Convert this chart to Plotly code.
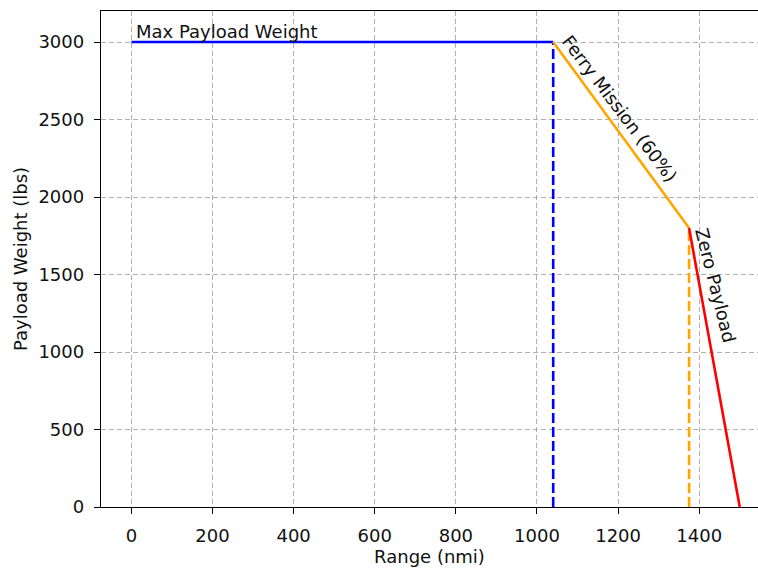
import plotly.graph_objects as go

# Data
max_payload_x = [0, 1040]
max_payload_y = [3000, 3000]
ferry_x = [1040, 1375]
ferry_y = [3000, 1800]
zero_x = [1375, 1500]
zero_y = [1800, 0]
blue_drop_x = [1040, 1040]
blue_drop_y = [0, 3000]
orange_drop_x = [1375, 1375]
orange_drop_y = [0, 1800]
x_ticks = [0, 200, 400, 600, 800, 1000, 1200, 1400]
y_ticks = [0, 500, 1000, 1500, 2000, 2500, 3000]

FONT = "DejaVu Sans"
FS = 18

fig = go.Figure()
fig.add_trace(go.Scatter(x=blue_drop_x, y=blue_drop_y, mode="lines",
                         line=dict(color="blue", width=2.6, dash="10px,4px")))
fig.add_trace(go.Scatter(x=orange_drop_x, y=orange_drop_y, mode="lines",
                         line=dict(color="orange", width=2.6, dash="10px,4px")))
fig.add_trace(go.Scatter(x=max_payload_x, y=max_payload_y, mode="lines",
                         line=dict(color="blue", width=2.6)))
fig.add_trace(go.Scatter(x=ferry_x, y=ferry_y, mode="lines",
                         line=dict(color="orange", width=2.6)))
fig.add_trace(go.Scatter(x=zero_x, y=zero_y, mode="lines",
                         line=dict(color="red", width=2.6)))

fig.add_annotation(x=0, y=3000, text="Max Payload Weight", showarrow=False,
                   xanchor="left", yanchor="bottom", xshift=3, yshift=-2,
                   font=dict(family=FONT, size=FS, color="#111"))
fig.add_annotation(x=1204, y=2572, text="Ferry Mission (60%)", showarrow=False,
                   textangle=53, font=dict(family=FONT, size=FS, color="#111"))
fig.add_annotation(x=1436, y=1430, text="Zero Payload", showarrow=False,
                   textangle=76, xshift=2, font=dict(family=FONT, size=FS, color="#111"))

axis_common = dict(
    showgrid=True, gridcolor="#b0b0b0", gridwidth=1.2, griddash="5px,3px",
    zeroline=False, showline=True, linecolor="black", linewidth=1.4,
    ticks="outside", ticklen=6, tickwidth=1.4, tickcolor="black",
    tickfont=dict(family=FONT, size=FS, color="#111"), automargin=False,
)

fig.update_xaxes(range=[-75, 1545], tickvals=x_ticks, mirror=True,
                 title=dict(text="Range (nmi)", font=dict(family=FONT, size=FS, color="#111"), standoff=0),
                 ticklabelstandoff=6, **axis_common)
fig.update_yaxes(range=[0, 3200], tickvals=y_ticks, mirror=False,
                 title=dict(text="Payload Weight (lbs)", font=dict(family=FONT, size=FS, color="#111"), standoff=6),
                 ticklabelstandoff=6, **axis_common)

fig.update_layout(
    width=758, height=569,
    margin=dict(l=101, r=0, t=11, b=62),
    plot_bgcolor="white", paper_bgcolor="white",
    showlegend=False,
    font=dict(family=FONT, size=FS, color="#111"),
)

fig.write_html("out.html", config={"displayModeBar": False},
               post_script="document.body.style.margin='0';document.body.style.overflow='hidden';")
